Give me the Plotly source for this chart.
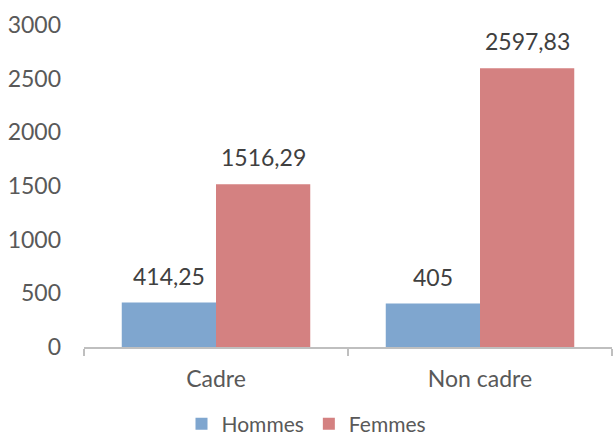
import plotly.graph_objects as go

categories = ["Cadre", "Non cadre"]
hommes = [414.25, 405]
femmes = [1516.29, 2597.83]
y_ticks = [0, 500, 1000, 1500, 2000, 2500, 3000]


def fmt(v):
    return f"{v:g}".replace(".", ",")


font_family = "Lato, Open Sans, sans-serif"
label_color = "#404040"
axis_text_color = "#595959"
series = [("Hommes", hommes, "#7FA6CF", -1), ("Femmes", femmes, "#D48181", 1)]

fig = go.Figure()
annotations = []
half_bar_px = 47.2
for name, vals, color, side in series:
    fig.add_trace(go.Bar(
        name=name, x=categories, y=vals,
        marker=dict(color=color, line=dict(width=0)),
    ))
    for c, v in zip(categories, vals):
        annotations.append(dict(
            x=c, y=v, xref="x", yref="y", text=fmt(v), showarrow=False,
            xshift=side * half_bar_px, yshift=11, yanchor="bottom",
            font=dict(family=font_family, size=23, color=label_color),
        ))

fig.update_layout(
    width=613, height=438,
    margin=dict(l=84, r=1, t=25, b=91),
    barmode="group", bargap=0.286, bargroupgap=0,
    plot_bgcolor="white", paper_bgcolor="white",
    font=dict(family=font_family, size=23, color=axis_text_color),
    showlegend=True,
    legend=dict(orientation="h", xref="container", yref="container",
                x=0.5, xanchor="center", y=0.032, yanchor="middle",
                font=dict(size=21, color=axis_text_color), itemwidth=30, traceorder="normal"),
    annotations=annotations,
)
fig.update_yaxes(
    range=[0, 3000], tickvals=y_ticks, showgrid=False, zeroline=False,
    showline=False, ticks="", ticklabelstandoff=22, automargin=False,
    tickfont=dict(size=23, color=axis_text_color),
)
fig.update_xaxes(
    showline=True, linecolor="#BFBFBF", linewidth=2,
    ticks="outside", tickson="boundaries", ticklen=7, tickwidth=2, tickcolor="#BFBFBF",
    showgrid=False, automargin=False, ticklabelstandoff=10,
    tickfont=dict(size=23, color=axis_text_color),
)

post = """
var h = document.documentElement, b = document.body;
h.style.margin='0'; h.style.padding='0'; h.style.overflow='hidden';
b.style.margin='0'; b.style.padding='0'; b.style.overflow='hidden';
"""

fig.write_html("out.html", post_script=post, config={"displayModeBar": False})
